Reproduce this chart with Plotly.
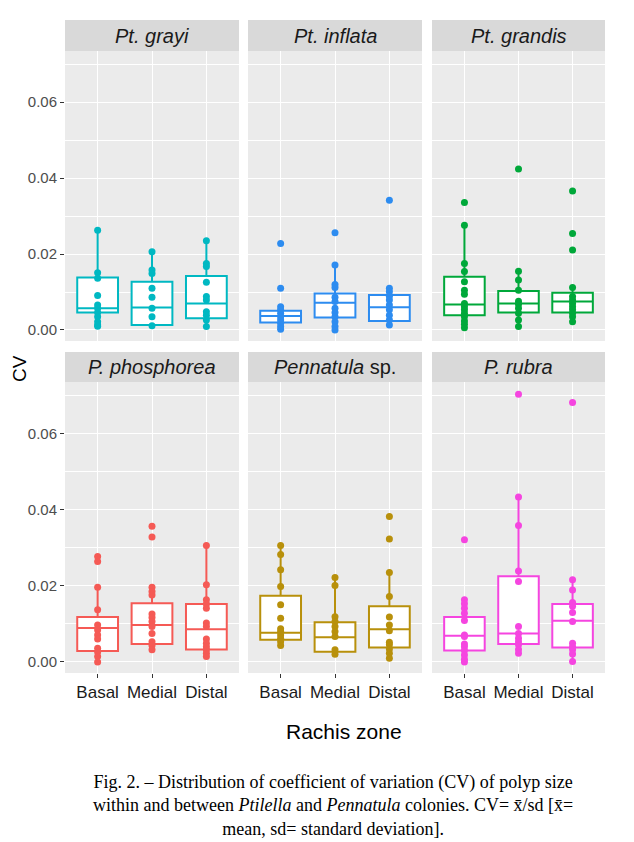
import plotly.graph_objects as go

W, H = 634, 842
OFF = 8  # default page margin of the html body

zones = ["Basal", "Medial", "Distal"]
species = ["Pt. grayi", "Pt. inflata", "Pt. grandis",
           "P. phosphorea", "Pennatula sp.", "P. rubra"]
strip_labels = ["<i>Pt. grayi</i>", "<i>Pt. inflata</i>", "<i>Pt. grandis</i>",
                "<i>P. phosphorea</i>", "<i>Pennatula</i> sp.", "<i>P. rubra</i>"]
colors = ["#00B8C2", "#2D8CF0", "#00A83A", "#F55A55", "#B8900B", "#F545E0"]

# box statistics per species (Basal, Medial, Distal)
q1 = [
    [0.0046, 0.0013, 0.0031],
    [0.0020, 0.0033, 0.0024],
    [0.0039, 0.0046, 0.0046],
    [0.0029, 0.0047, 0.0033],
    [0.0058, 0.0027, 0.0038],
    [0.0030, 0.0047, 0.0038],
]
median = [
    [0.0057, 0.0059, 0.0070],
    [0.0037, 0.0072, 0.0060],
    [0.0067, 0.0070, 0.0075],
    [0.0089, 0.0097, 0.0086],
    [0.0077, 0.0065, 0.0086],
    [0.0069, 0.0075, 0.0108],
]
q3 = [
    [0.0138, 0.0127, 0.0142],
    [0.0051, 0.0096, 0.0092],
    [0.0140, 0.0103, 0.0098],
    [0.0118, 0.0154, 0.0152],
    [0.0174, 0.0104, 0.0146],
    [0.0118, 0.0225, 0.0152],
]
lower = [
    [0.0010, 0.0011, 0.0009],
    [0.0002, 0.0000, 0.0013],
    [0.0006, 0.0009, 0.0022],
    [0.0000, 0.0032, 0.0014],
    [0.0043, 0.0020, 0.0010],
    [0.0000, 0.0023, 0.0001],
]
upper = [
    [0.0263, 0.0206, 0.0235],
    [0.0061, 0.0171, 0.0110],
    [0.0276, 0.0155, 0.0112],
    [0.0196, 0.0196, 0.0306],
    [0.0306, 0.0222, 0.0235],
    [0.0163, 0.0433, 0.0216],
]

# individual colony CV values (Basal, Medial, Distal)
grayi_pts = [
    [0.0263, 0.0151, 0.0136, 0.0091, 0.0066, 0.0057, 0.0046, 0.0035, 0.0022, 0.0013, 0.0010],
    [0.0206, 0.0158, 0.0149, 0.0110, 0.0086, 0.0057, 0.0035, 0.0011],
    [0.0235, 0.0175, 0.0167, 0.0126, 0.0088, 0.0079, 0.0048, 0.0039, 0.0026, 0.0009],
]
inflata_pts = [
    [0.0228, 0.0110, 0.0061, 0.0053, 0.0044, 0.0035, 0.0026, 0.0018, 0.0009, 0.0002],
    [0.0256, 0.0171, 0.0120, 0.0112, 0.0086, 0.0075, 0.0057, 0.0046, 0.0035, 0.0022, 0.0009, 0.0000],
    [0.0342, 0.0110, 0.0101, 0.0089, 0.0079, 0.0066, 0.0053, 0.0039, 0.0026, 0.0013],
]
grandis_pts = [
    [0.0336, 0.0276, 0.0175, 0.0154, 0.0127, 0.0105, 0.0094, 0.0070, 0.0061, 0.0053,
     0.0044, 0.0035, 0.0024, 0.0015, 0.0006],
    [0.0424, 0.0155, 0.0132, 0.0105, 0.0076, 0.0068, 0.0057, 0.0044, 0.0026, 0.0009],
    [0.0366, 0.0254, 0.0211, 0.0112, 0.0088, 0.0079, 0.0070, 0.0061, 0.0053, 0.0044,
     0.0035, 0.0022],
]
phosphorea_pts = [
    [0.0277, 0.0264, 0.0196, 0.0137, 0.0097, 0.0084, 0.0071, 0.0060, 0.0036, 0.0026, 0.0014, 0.0000],
    [0.0356, 0.0328, 0.0196, 0.0185, 0.0176, 0.0126, 0.0117, 0.0106, 0.0093, 0.0075,
     0.0053, 0.0043, 0.0032],
    [0.0306, 0.0203, 0.0163, 0.0152, 0.0141, 0.0102, 0.0093, 0.0060, 0.0049, 0.0040,
     0.0032, 0.0023, 0.0014],
]
pennatula_pts = [
    [0.0306, 0.0282, 0.0242, 0.0198, 0.0150, 0.0115, 0.0087, 0.0080, 0.0071, 0.0062, 0.0053, 0.0043],
    [0.0222, 0.0201, 0.0119, 0.0106, 0.0093, 0.0080, 0.0067, 0.0032, 0.0020],
    [0.0382, 0.0323, 0.0235, 0.0172, 0.0118, 0.0097, 0.0082, 0.0052, 0.0045, 0.0034, 0.0023, 0.0010],
]
rubra_pts = [
    [0.0321, 0.0163, 0.0153, 0.0141, 0.0128, 0.0109, 0.0071, 0.0067, 0.0047, 0.0040,
     0.0030, 0.0018, 0.0007, 0.0000],
    [0.0703, 0.0433, 0.0358, 0.0239, 0.0211, 0.0093, 0.0075, 0.0062, 0.0053, 0.0045, 0.0033, 0.0023],
    [0.0681, 0.0216, 0.0189, 0.0156, 0.0146, 0.0130, 0.0106, 0.0049, 0.0040, 0.0032, 0.0021, 0.0001],
]
points = [grayi_pts, inflata_pts, grandis_pts, phosphorea_pts, pennatula_pts, rubra_pts]

y_ticks = [0.00, 0.02, 0.04, 0.06]
caption = ("Fig. 2. \u2013 Distribution of coefficient of variation (CV) of polyp size<br>"
           "within and between <i>Ptilella</i> and <i>Pennatula</i> colonies. "
           "CV= x\u0304/sd [x\u0304=<br>mean, sd= standard deviation].")

# panel geometry in screen pixels
col_px = [(65, 239), (248, 422), (432, 605)]
row_px = [(51, 341), (382, 673)]
strip_px = [(20, 51), (352, 382)]


def px_x(v):
    return (v - OFF) / W


def px_y(v):
    return 1 - (v - OFF) / H


fig = go.Figure()
layout = {}
shapes = []
annotations = []

for i, name in enumerate(species):
    r, c = divmod(i, 3)
    n = "" if i == 0 else str(i + 1)
    xa, ya = "x" + n, "y" + n
    col = colors[i]

    fig.add_trace(go.Box(
        x=zones, q1=q1[i], median=median[i], q3=q3[i],
        lowerfence=lower[i], upperfence=upper[i],
        boxpoints=False, fillcolor="white", width=0.75, whiskerwidth=0,
        line=dict(color=col, width=2), name=name,
        xaxis=xa, yaxis=ya, showlegend=False, hoverinfo="skip",
    ))
    xs, ys = [], []
    for z, vals in zip(zones, points[i]):
        xs += [z] * len(vals)
        ys += vals
    fig.add_trace(go.Scatter(
        x=xs, y=ys, mode="markers",
        marker=dict(color=col, size=7, line=dict(width=0)),
        xaxis=xa, yaxis=ya, showlegend=False, hoverinfo="skip",
    ))

    x0, x1 = col_px[c]
    y0, y1 = row_px[r]
    layout["xaxis" + n] = dict(
        domain=[px_x(x0), px_x(x1)], anchor=ya,
        type="category", categoryorder="array", categoryarray=zones,
        range=[-0.6, 2.6], showgrid=True, gridcolor="white", gridwidth=1.4,
        zeroline=False, showline=False,
        ticks="outside" if r == 1 else "", ticklen=4, tickcolor="#333333",
        showticklabels=(r == 1),
        tickfont=dict(family="Liberation Sans", size=17, color="#1A1A1A"),
    )
    layout["yaxis" + n] = dict(
        domain=[px_y(y1), px_y(y0)], anchor=xa,
        range=[-0.0029, 0.0735], tickvals=y_ticks, tickformat=".2f",
        showgrid=True, gridcolor="white", gridwidth=1.4,
        minor=dict(dtick=0.01, tick0=0.01, showgrid=True, gridcolor="white", gridwidth=0.8),
        zeroline=False, showline=False,
        ticks="outside" if c == 0 else "", ticklen=4, tickcolor="#333333",
        showticklabels=(c == 0),
        tickfont=dict(family="Liberation Sans", size=15, color="#4D4D4D"),
    )

    s0, s1 = strip_px[r]
    shapes.append(dict(type="rect", xref="paper", yref="paper",
                       x0=px_x(x0), x1=px_x(x1), y0=px_y(s1), y1=px_y(s0),
                       fillcolor="#D9D9D9", line=dict(width=0), layer="below"))
    annotations.append(dict(text=strip_labels[i], xref="paper", yref="paper",
                            x=px_x((x0 + x1) / 2), y=px_y((s0 + s1) / 2),
                            showarrow=False, xanchor="center", yanchor="middle",
                            font=dict(family="Liberation Sans", size=20, color="#1A1A1A")))

annotations.append(dict(text="CV", xref="paper", yref="paper",
                        x=px_x(19), y=px_y(369), textangle=-90, showarrow=False,
                        xanchor="center", yanchor="middle",
                        font=dict(family="Liberation Sans", size=19, color="black")))
annotations.append(dict(text="Rachis zone", xref="paper", yref="paper",
                        x=px_x(344), y=px_y(731), showarrow=False,
                        xanchor="center", yanchor="middle",
                        font=dict(family="Liberation Sans", size=21, color="black")))
annotations.append(dict(text=caption, xref="paper", yref="paper",
                        x=px_x(333), y=px_y(805), showarrow=False, align="center",
                        xanchor="center", yanchor="middle",
                        font=dict(family="Liberation Serif", size=18, color="black")))

fig.update_layout(
    width=W, height=H,
    margin=dict(l=0, r=0, t=0, b=0),
    paper_bgcolor="white", plot_bgcolor="#EBEBEB",
    shapes=shapes, annotations=annotations,
    boxmode="overlay",
    **layout,
)

fig.write_html("out.html")
